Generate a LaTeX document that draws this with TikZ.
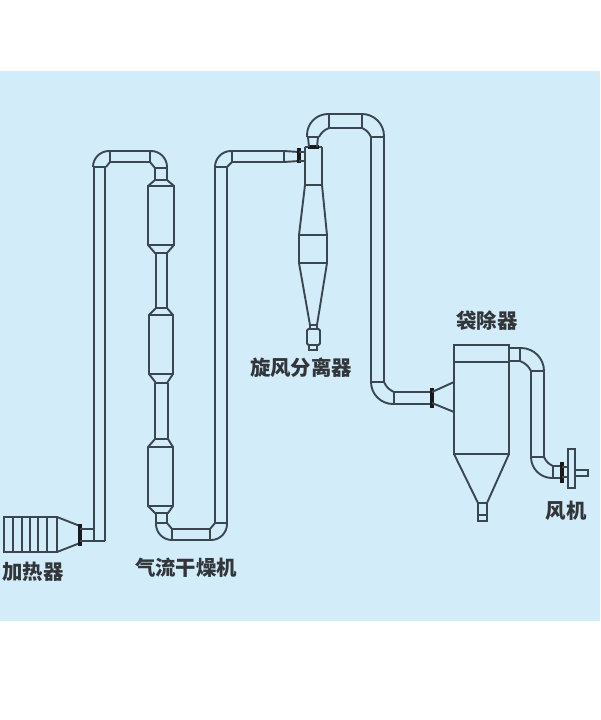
\documentclass[tikz,border=0pt]{standalone}
\usepackage{fontspec}
\setmainfont{Noto Sans CJK SC}
\definecolor{panelblue}{RGB}{211, 236, 250}
\definecolor{pipegrey}{RGB}{58, 70, 80}
\definecolor{labelgrey}{RGB}{50, 54, 58}
\usetikzlibrary{positioning}
\tikzset{
  pipe/.style={draw=pipegrey, line width=1.9pt},
  flange/.style={draw=black!90, line width=3.6pt},
  bend/.style={pipe, rounded corners=#1},
  tag/.style={text=labelgrey, font=\fontsize{20.4}{20.4}\selectfont\bfseries, inner sep=0pt}
}
\begin{document}
\begin{tikzpicture}[x=1pt, y=-1pt]
  \useasboundingbox (0,0) rectangle (600,720);
  \fill[panelblue] (0,71) rectangle (600,621);
  % heater
  \draw[pipe] (4,517) rectangle (57,552);
  \foreach \x in {13,22,30,38,47} {
    \draw[pipe] (\x,517) -- (\x,552);
  }
  \draw[pipe] (57,517) -- (80,526) (57,552) -- (80,543);
  \draw[flange] (80,524) -- (80,546);
  \draw[pipe] (80,529) -- (94,529) (80,541) -- (105,541);
  % first riser
  \draw[pipe] (94,541) -- (94,167) (105,541) -- (105,167) (93,167) -- (106,167);
  \draw[bend=16pt] (93,167) |- (110,151);
  \draw[pipe] (106,167) -- (110,162) (110,151) -- (110,162);
  \draw[pipe] (110,151) -- (150,151) (110,162) -- (150,162) (150,151) -- (150,162);
  \draw[bend=16pt] (150,151) -| (167,168);
  \draw[pipe] (150,162) -- (155,168) (155,168) -- (167,168);
  \draw[pipe] (155,168) -- (155,180) (167,168) -- (167,180);
  % dryer column
  \foreach \ya/\yb/\yc/\yd/\xa/\xb/\xc/\xd in {
      180/186/245/253/148/174/155/167,
      308/315/374/383/149/173/156/167,
      439/447/506/513/148/173/155/168} {
    \draw[pipe] (\xc,\ya) -- (\xd,\ya) -- (\xb,\yb) -- (\xb,\yc) -- (\xd,\yd) -- (\xc,\yd)
      -- (\xa,\yc) -- (\xa,\yb) -- cycle;
    \draw[pipe] (\xa,\yb) -- (\xb,\yb) (\xa,\yc) -- (\xb,\yc);
  }
  \draw[pipe] (156,253) -- (156,308) (167,253) -- (167,308);
  \draw[pipe] (155,383) -- (155,439) (168,383) -- (168,439);
  \draw[pipe] (156,513) -- (156,523) (167,513) -- (167,523) (156,523) -- (167,523);
  % lower U bend
  \draw[bend=16pt] (156,523) |- (172,540);
  \draw[pipe] (167,523) -- (172,529) (172,529) -- (172,540);
  \draw[pipe] (172,529) -- (210,529) (172,540) -- (210,540) (210,529) -- (210,540);
  \draw[bend=16pt] (210,540) -| (227,523);
  \draw[pipe] (210,529) -- (215,523) (215,523) -- (227,523);
  % second riser
  \draw[pipe] (215,523) -- (215,167) (227,523) -- (227,167) (215,167) -- (227,167);
  \draw[bend=16pt] (215,167) |- (232,151);
  \draw[pipe] (227,167) -- (232,162) (232,151) -- (232,162);
  \draw[pipe] (232,151) -- (284,151) (232,162) -- (284,162) (284,150) -- (284,162);
  \draw[pipe] (284,151) -- (299,152) (284,162) -- (299,161);
  \draw[flange] (299,148) -- (299,163);
  \draw[pipe] (299,152) -- (305,152) (299,161) -- (305,161);
  % cyclone
  \draw[pipe] (305,147) -- (305,185) (322,147) -- (322,185) (305,147) -- (322,147) (305,185) -- (322,185);
  \draw[flange] (308,147) -- (319,147);
  \draw[pipe] (305,185) -- (299,235) -- (299,263) -- (310,325) (322,185) -- (327,235) -- (327,263) -- (317,325);
  \draw[pipe] (299,235) -- (327,235) (299,263) -- (327,263);
  \draw[pipe] (310,325) -- (318,325) (310,325) -- (310,329) (317,325) -- (317,329);
  \draw[pipe, rounded corners=1.5pt] (307,329) rectangle (320,345);
  \draw[pipe] (309,345) -- (309,350) -- (317,350) -- (317,345);
  % top bend
  \draw[pipe] (309,147) -- (308,137) (317,147) -- (318,137) (307,137) -- (319,137);
  \draw[bend=21pt] (307,137) |- (329,114);
  \draw[pipe] (319,137) to[bend left=20] (329,128);
  \draw[pipe] (329,114) -- (362,114) (329,128) -- (362,128) (329,114) -- (329,128) (362,114) -- (362,128);
  \draw[bend=22pt] (362,114) -| (384,137);
  \draw[pipe] (362,128) to[bend left=20] (371,137);
  \draw[pipe] (371,137) -- (384,137);
  % downcomer
  \draw[pipe] (371,137) -- (371,382) (384,137) -- (384,382) (371,382) -- (384,382);
  \draw[bend=22pt] (371,382) |- (394,404);
  \draw[pipe] (384,382) to[bend right=20] (394,392);
  \draw[pipe] (394,392) -- (394,404) (394,392) -- (432,392) (394,404) -- (432,404);
  \draw[flange] (432,388) -- (432,408);
  \draw[pipe] (432,392) -- (454,382) (432,403) -- (454,412);
  % bag filter
  \draw[pipe] (454,345) rectangle (509,454);
  \draw[pipe] (454,362) -- (509,362);
  \draw[pipe] (454,454) -- (478,503) (509,454) -- (487,503);
  \draw[pipe] (478,503) rectangle (487,521);
  \draw[pipe] (478,515) -- (487,515);
  % outlet to fan
  \draw[pipe] (509,348) -- (520,348) (509,361) -- (520,361) (520,348) -- (520,361);
  \draw[bend=23pt] (520,348) -| (544,371);
  \draw[pipe] (520,361) to[bend left=20] (531,371);
  \draw[pipe] (531,371) -- (544,371);
  \draw[pipe] (531,371) -- (531,457) (544,371) -- (544,457) (531,457) -- (544,457);
  \draw[bend=21pt] (531,457) |- (553,478);
  \draw[pipe] (544,457) to[bend right=20] (553,466);
  \draw[pipe] (553,466) -- (553,478) (553,466) -- (562,466) (553,478) -- (562,478);
  \draw[flange] (562,462) -- (562,483);
  \draw[pipe] (562,467) -- (568,467) (562,477) -- (568,477);
  \draw[pipe] (568,449) rectangle (575,488);
  \draw[pipe] (575,470) rectangle (588,476);
  % labels
  \node[tag] (heater) at (33,572) {加热器};
  \node[tag] (dryer) at (186,568) {气流干燥机};
  \node[tag] (cyclone) at (301,368) {旋风分离器};
  \node[tag] (filter) at (487,321) {袋除器};
  \node[tag] (fan) at (566,511) {风机};
\end{tikzpicture}
\end{document}
